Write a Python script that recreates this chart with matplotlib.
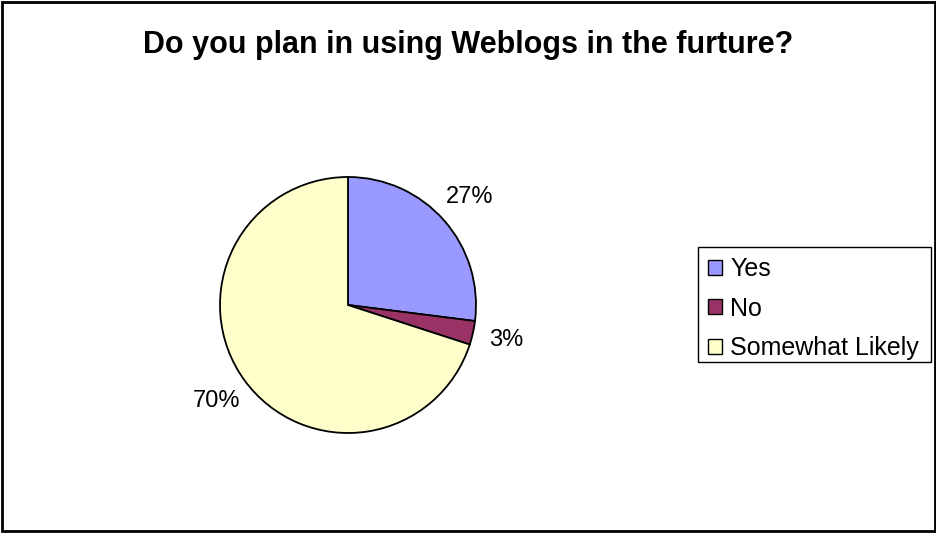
import matplotlib
matplotlib.use("Agg")
import matplotlib.pyplot as plt
from matplotlib.patches import Rectangle

categories = ["Yes", "No", "Somewhat Likely"]
values = [27, 3, 70]
colors = ["#9999FF", "#993366", "#FFFFCC"]
title = "Do you plan in using Weblogs in the furture?"

plt.rcParams['font.family'] = ['Liberation Sans', 'DejaVu Sans']

W, H = 937, 533
fig = plt.figure(figsize=(W / 100, H / 100), dpi=100)
ax = fig.add_axes([0, 0, 1, 1])
ax.set_xlim(0, W)
ax.set_ylim(0, H)
ax.set_aspect('equal')
ax.axis('off')

wedges, texts, autotexts = ax.pie(
    values, colors=colors, startangle=90, counterclock=False,
    center=(348, H - 305), radius=128,
    autopct=lambda p: f"{p:.0f}%", pctdistance=1.27,
    wedgeprops=dict(edgecolor='black', linewidth=1.3),
    textprops=dict(fontsize=17, color='black'),
)
ax.set_xlim(0, W)
ax.set_ylim(0, H)

fig.text(468 / W, 1 - 45 / H, title, ha='center', va='center',
         fontsize=22, fontweight='bold')

leg = ax.legend(wedges, categories, loc='upper left',
                bbox_to_anchor=(698 / W, 1 - 247 / H), bbox_transform=fig.transFigure,
                fontsize=18, frameon=False,
                handlelength=0.55, handleheight=0.55, handletextpad=0.35,
                labelspacing=0.62, borderpad=0.4, borderaxespad=0)
for h in leg.legend_handles:
    h.set_edgecolor('black')
    h.set_linewidth(1.0)

# legend frame
fig.patches.append(Rectangle((698 / W, 1 - 362 / H), (931 - 698) / W, (362 - 247) / H,
                             transform=fig.transFigure, fill=False,
                             edgecolor='black', linewidth=1.0))

# outer chart frame
fig.patches.append(Rectangle((2 / W, 2 / H), (W - 4) / W, (H - 4) / H,
                             transform=fig.transFigure, fill=False,
                             edgecolor='black', linewidth=2))

fig.savefig("out.png", dpi=100)
